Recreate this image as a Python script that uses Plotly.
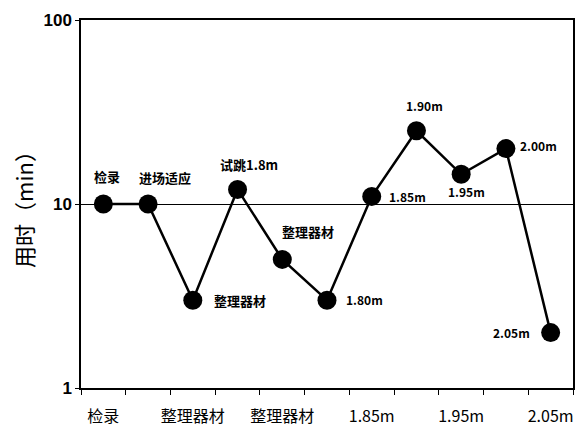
import math
import plotly.graph_objects as go

categories = ["检录", "进场适应", "整理器材", "试跳1.8m", "整理器材", "1.80m",
              "1.85m", "1.90m", "1.95m", "2.00m", "2.05m"]
minutes = [10, 10, 3, 12, 5, 3, 11, 25, 14.5, 20, 2]
# label offsets in pixels (style, not data)
label_dx = [4, 17, 47, 11, 26, 37, 36, 8, 5, 33, -39]
label_dy = [-28, -27, 0, -25, -28, -1, 0, -25, 17, -3, 0]
tick_idx = [0, 2, 4, 6, 8, 10]
tick_text = ["检录", "整理器材", "整理器材", "1.85m", "1.95m", "2.05m"]

x = list(range(len(categories)))

fig = go.Figure()
fig.add_trace(go.Scatter(
    x=x, y=minutes, mode="lines+markers",
    line=dict(color="black", width=2.5),
    marker=dict(color="black", size=19),
    cliponaxis=False, showlegend=False,
))

for xi, yi, lab, dx, dy in zip(x, minutes, categories, label_dx, label_dy):
    is_cjk = any(ord(c) > 0x2E80 for c in lab)
    fig.add_annotation(
        x=xi, y=math.log10(yi), yref="y", xref="x", text=lab, showarrow=False,
        xshift=dx, yshift=-dy, xanchor="center", yanchor="middle",
        font=dict(family="Noto Sans CJK SC, Liberation Sans", size=13 if is_cjk else 12,
                  color="black", weight="bold"),
    )

fig.update_layout(
    width=587, height=433,
    margin=dict(l=81, r=14, t=20, b=45),
    paper_bgcolor="white", plot_bgcolor="white",
    font=dict(family="Liberation Sans, Arial", color="black"),
    xaxis=dict(
        range=[-0.5, 10.5], tickmode="array", tickvals=tick_idx, ticktext=tick_text,
        ticks="", showgrid=False, zeroline=False, automargin=False,
        showline=True, linecolor="black", linewidth=2, mirror=True,
        tickfont=dict(family="Noto Sans CJK SC, Liberation Sans", size=16),
        ticklabelstandoff=13,
        minor=dict(tickmode="linear", tick0=0.5, dtick=1, ticks="outside",
                   ticklen=5, tickcolor="black", showgrid=False),
    ),
    yaxis=dict(
        type="log", range=[0, 2], tickvals=[1, 10, 100], ticktext=["1", "10", "100"],
        ticks="outside", ticklen=4, tickcolor="black", automargin=False,
        showgrid=True, gridcolor="black", gridwidth=1, zeroline=False,
        showline=True, linecolor="black", linewidth=1.5, mirror=True,
        tickfont=dict(family="Liberation Sans, Arial", size=17, weight="bold"),
        title=dict(text="用时（min）", font=dict(family="Noto Sans CJK SC", size=22), standoff=4),
    ),
)

fig.write_html("out.html")
